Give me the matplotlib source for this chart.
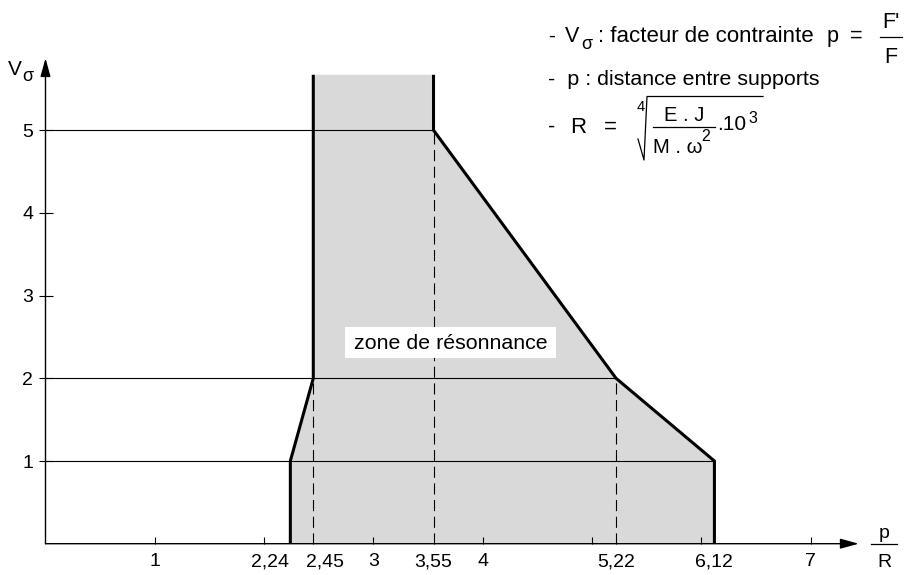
import matplotlib
matplotlib.use("Agg")
import matplotlib.pyplot as plt
from matplotlib.transforms import Affine2D, ScaledTranslation
from matplotlib.patches import Rectangle
from matplotlib.lines import Line2D

plt.rcParams['font.family'] = ['Liberation Sans', 'DejaVu Sans']

# ---------------- data ----------------
zone_x = [2.24, 2.24, 2.45, 2.45, 3.55, 3.55, 5.22, 6.12, 6.12]
zone_y = [0, 1, 2, 5.67, 5.67, 5, 2, 1, 0]
ref_levels = [1, 2, 5]
ref_ends = [6.12, 5.22, 3.55]
dash_x = [2.45, 3.55, 5.22]
dash_top = [2, 5, 2]
major_ticks = [1, 2, 3, 4, 5, 6, 7]
major_labels = ['1', '', '3', '4', '', '', '7']
minor_ticks = [2.24, 2.45, 3.55, 5.22, 6.12]
minor_labels = ['2,24', '2,45', '3,55', '5,22', '6,12']
y_ticks = [1, 2, 3, 4, 5]
y_labels = ['1', '2', '3', '4', '5']
x_arrow_end = 7.44
y_arrow_end = 5.87

W, H = 908, 575
fig = plt.figure(figsize=(W / 100, H / 100), dpi=100)
ax = fig.add_axes([0, 0, 1, 1])
X0, SX = 45.5, 109.3
Y0, SY = 543.7, 82.7
ax.set_xlim((0 - X0) / SX, (W - X0) / SX)
ax.set_ylim((Y0 - H) / SY, Y0 / SY)

# pixel transform (top-left origin)
T = Affine2D().scale(1 / W, -1 / H).translate(0, 1) + fig.transFigure


def txt(x, y, s, size=15, ha='left', **kw):
    return fig.text(x, y, s, transform=T, fontsize=size, ha=ha, va='baseline', **kw)


def seg(xs, ys, lw=0.9, **kw):
    fig.add_artist(Line2D(xs, ys, transform=T, color='black', lw=lw, **kw))


# shaded zone
ax.fill(zone_x, zone_y, color='#d9d9d9', lw=0, zorder=1)
for lvl, end in zip(ref_levels, ref_ends):
    ax.plot([0, end], [lvl, lvl], color='black', lw=0.8, zorder=2)
for x, top in zip(dash_x, dash_top):
    ax.plot([x, x], [0, top], color='black', lw=0.8, dashes=(10, 5), zorder=2)
ax.plot(zone_x[:4], zone_y[:4], color='black', lw=2.2, zorder=3,
        solid_joinstyle='miter', solid_capstyle='butt')
ax.plot(zone_x[4:], zone_y[4:], color='black', lw=2.2, zorder=3,
        solid_joinstyle='miter', solid_capstyle='butt')

# axes with arrows
arrow = dict(arrowstyle='-|>,head_length=0.8,head_width=0.22', color='black',
             lw=1.0, mutation_scale=14, shrinkA=0, shrinkB=0)
ax.annotate('', xy=(x_arrow_end, 0), xytext=(0, 0), arrowprops=arrow, zorder=4)
ax.annotate('', xy=(0, y_arrow_end), xytext=(0, 0), arrowprops=arrow, zorder=4)

for s in ['top', 'right']:
    ax.spines[s].set_visible(False)
for s in ['left', 'bottom']:
    ax.spines[s].set_position(('data', 0))
    ax.spines[s].set_color('none')

ax.set_xticks(major_ticks, labels=major_labels)
ax.set_xticks(minor_ticks, labels=minor_labels, minor=True)
ax.tick_params(axis='x', which='major', direction='in', length=5, width=0.8,
               labelsize=14, pad=7, top=False, bottom=True)
ax.tick_params(axis='x', which='minor', length=0, labelsize=14, pad=7,
               top=False, bottom=True)
ax.set_yticks(y_ticks, labels=y_labels)
ax.tick_params(axis='y', which='major', direction='inout', length=9.5, width=0.8,
               labelsize=14, pad=4, left=True, right=False)

# shift the two crowded labels apart
shifts = {'2,24': -20, '2,45': 12}
for lab in ax.get_xticklabels(minor=True):
    dx = shifts.get(lab.get_text(), 0)
    if dx:
        lab.set_transform(lab.get_transform() + ScaledTranslation(dx / 100, 0, fig.dpi_scale_trans))

# axis labels
txt(8, 75, 'V', 15)
txt(22, 81, 'σ', 13)
txt(884, 538, 'p', 14, ha='center')
seg([871, 897], [544, 544])
txt(884, 567, 'R', 14, ha='center')

# zone label
fig.add_artist(Rectangle((345, 327), 211, 31, transform=T, facecolor='white',
                         edgecolor='none', zorder=5))
txt(450.5, 349, 'zone de résonnance', 15.4, ha='center', zorder=6)

# legend text top right
txt(548, 42, '-', 15)
txt(565, 42, 'V', 15.5)
txt(581, 49, 'σ', 13)
txt(598, 42, ': facteur de contrainte', 16)
txt(833, 42, 'p', 15.5, ha='center')
txt(856, 42, '=', 15.5, ha='center')
txt(891, 28, "F'", 15.5, ha='center')
seg([880, 902], [37, 37])
txt(891, 63, 'F', 15.5, ha='center')

txt(548, 85, '-  p : distance entre supports', 15.4)

txt(548, 133, '-', 15.5)
txt(578, 133, 'R', 16, ha='center')
txt(610, 133, '=', 16, ha='center')
txt(641, 111, '4', 10.5, ha='center')
seg([638, 644, 647, 763], [139, 160, 96.5, 96.5])
txt(684, 121, 'E . J', 14.5, ha='center')
seg([653, 715], [127.3, 127.3])
txt(653, 153, 'M . ω', 14.5)
txt(701, 141, '2', 11.5)
txt(717, 130, '.10', 15)
txt(748, 123, '3', 11.5)

fig.savefig('out.png', dpi=100)
